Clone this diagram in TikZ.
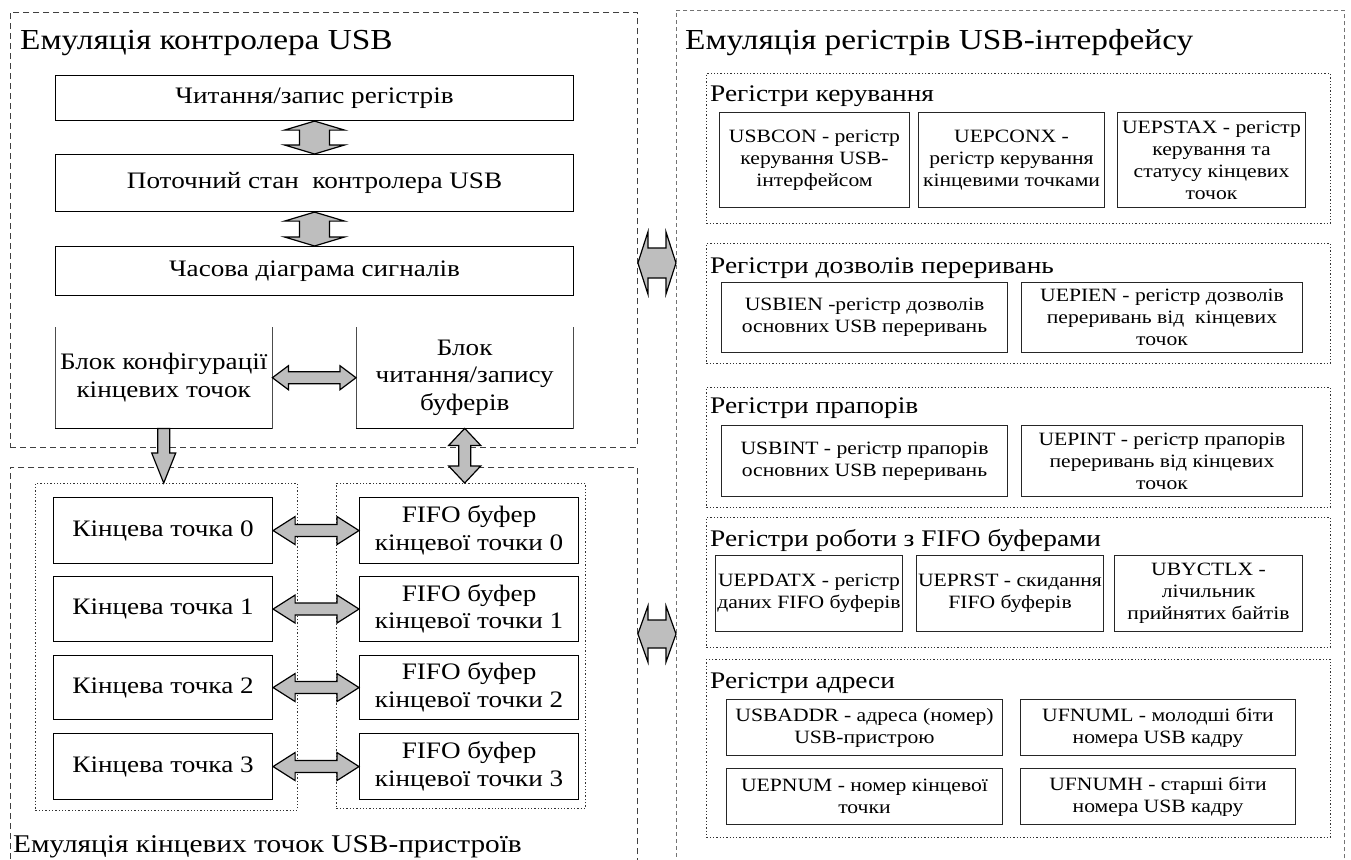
\documentclass[tikz,border=0pt]{standalone}
\usepackage{fontspec}
\setmainfont{Liberation Serif}[FakeStretch=1.15]
\usetikzlibrary{calc}

\definecolor{arrowfill}{HTML}{BEBEBE}

% font sizes (1pt = 1 unit of the drawing)
\newcommand\fsTitle{\fontsize{29}{32}\selectfont}
\newcommand\fsTitleB{\fontsize{25.5}{28}\selectfont}
\newcommand\fsGroup{\fontsize{23.8}{26}\selectfont}
\newcommand\fsBox{\fontsize{23.6}{27.5}\selectfont}
\newcommand\fsReg{\fontsize{18.8}{22}\selectfont}

\tikzset{
  outerbox/.style={draw=black!75, line width=0.9pt, dash pattern=on 6pt off 4pt,
    anchor=north west, inner sep=0pt},
  outerboxlight/.style={draw=black!55, line width=0.9pt, dash pattern=on 4pt off 3pt,
    anchor=north west, inner sep=0pt},
  groupbox/.style={draw=black!80, line width=0.9pt, dash pattern=on 1.3pt off 2pt,
    anchor=north west, inner sep=0pt},
  blockbox/.style={draw=black, line width=1.1pt, anchor=north west, inner sep=2pt,
    align=center, font=\fsBox},
  openbox/.style={anchor=north west, inner sep=2pt, align=center, font=\fsBox},
  regbox/.style={draw=black!85, line width=1pt, anchor=north west, inner sep=1pt,
    align=center, font=\fsReg},
  heading/.style={anchor=base west, inner sep=0pt, font=\fsTitle},
  grouphead/.style={anchor=base west, inner sep=0pt, font=\fsGroup},
  fatarrow/.style={fill=arrowfill, draw=black, line width=1.2pt, line join=miter},
}

% vertical double arrow: #1 top point, #2 bottom point,
% #3 head half width, #4 shaft half width, #5 head length
\newcommand\fatV[5]{%
  \draw[fatarrow] let \p1=(#1), \p2=(#2) in
    (\x1,\y1) -- ({\x1+#3pt},{\y1-#5pt}) -- ({\x1+#4pt},{\y1-#5pt})
    -- ({\x1+#4pt},{\y2+#5pt}) -- ({\x1+#3pt},{\y2+#5pt}) -- (\x1,\y2)
    -- ({\x1-#3pt},{\y2+#5pt}) -- ({\x1-#4pt},{\y2+#5pt})
    -- ({\x1-#4pt},{\y1-#5pt}) -- ({\x1-#3pt},{\y1-#5pt}) -- cycle;}

% horizontal double arrow: #1 left point, #2 right point,
% #3 head half height, #4 shaft half height, #5 head length
\newcommand\fatH[5]{%
  \draw[fatarrow] let \p1=(#1), \p2=(#2) in
    (\x1,\y1) -- ({\x1+#5pt},{\y1+#3pt}) -- ({\x1+#5pt},{\y1+#4pt})
    -- ({\x2-#5pt},{\y1+#4pt}) -- ({\x2-#5pt},{\y1+#3pt}) -- (\x2,\y1)
    -- ({\x2-#5pt},{\y1-#3pt}) -- ({\x2-#5pt},{\y1-#4pt})
    -- ({\x1+#5pt},{\y1-#4pt}) -- ({\x1+#5pt},{\y1-#3pt}) -- cycle;}

% single arrow pointing down: #1 start point, #2 tip point
\newcommand\fatDown[5]{%
  \draw[fatarrow] let \p1=(#1), \p2=(#2) in
    ({\x1-#4pt},\y1) -- ({\x1+#4pt},\y1) -- ({\x1+#4pt},{\y2+#5pt})
    -- ({\x1+#3pt},{\y2+#5pt}) -- (\x1,\y2) -- ({\x1-#3pt},{\y2+#5pt})
    -- ({\x1-#4pt},{\y2+#5pt}) -- cycle;}

\begin{document}
\begin{tikzpicture}[x=1pt, y=-1pt]
\useasboundingbox (0,0) rectangle (1351,859);
\clip (0,0) rectangle (1351,859);

% ---------------- USB controller ----------------
\node[outerbox, minimum width=627pt, minimum height=435pt] (ctl) at (10,12) {};
\node[heading] (ctlT) at (20,49) {Емуляція контролера USB};

\node[blockbox, minimum width=518pt, minimum height=45pt] (rw) at (55,75) {Читання/запис регістрів};
\node[blockbox, minimum width=518pt, minimum height=57pt] (state) at (55,154) {Поточний стан\ \ контролера USB};
\node[blockbox, minimum width=518pt, minimum height=49pt] (timing) at (55,246) {Часова діаграма сигналів};

\node[openbox, minimum width=217pt, minimum height=101pt] (cfg) at (55,327) {Блок конфігурації\\кінцевих точок};
\node[openbox, minimum width=217pt, minimum height=101pt] (bufrw) at (356,327) {Блок\\читання/запису\\буферів};
\draw[black!70, line width=1pt] (cfg.north west) -- (cfg.south west) -- (cfg.south east) -- (cfg.north east);
\draw[black!70, line width=1pt] (bufrw.north west) -- (bufrw.south west) -- (bufrw.south east) -- (bufrw.north east);
\draw[black, line width=1.6pt] (cfg.south west) -- (cfg.south east);
\draw[black, line width=1.6pt] (bufrw.south west) -- (bufrw.south east);

% ---------------- endpoints ----------------
\node[outerbox, minimum width=627pt, minimum height=420pt] (ep) at (10,467) {};
\node[groupbox, minimum width=262pt, minimum height=327pt] (epL) at (35,483) {};
\node[groupbox, minimum width=249pt, minimum height=325pt] (epR) at (336,483) {};

\node[blockbox, minimum width=219pt, minimum height=66pt] (k0) at (53,497) {Кінцева точка 0};
\node[blockbox, minimum width=219pt, minimum height=65pt] (k1) at (53,576) {Кінцева точка 1};
\node[blockbox, minimum width=219pt, minimum height=64pt] (k2) at (53,655) {Кінцева точка 2};
\node[blockbox, minimum width=219pt, minimum height=66pt] (k3) at (53,733) {Кінцева точка 3};

\node[blockbox, minimum width=219pt, minimum height=66pt] (f0) at (359,497) {FIFO буфер\\кінцевої точки 0};
\node[blockbox, minimum width=219pt, minimum height=65pt] (f1) at (359,576) {FIFO буфер\\кінцевої точки 1};
\node[blockbox, minimum width=219pt, minimum height=64pt] (f2) at (359,655) {FIFO буфер\\кінцевої точки 2};
\node[blockbox, minimum width=219pt, minimum height=66pt] (f3) at (359,733) {FIFO буфер\\кінцевої точки 3};

\node[heading, font=\fsTitleB] (epT) at (13,852) {Емуляція кінцевих точок USB-пристроїв};

% ---------------- registers ----------------
\node[outerboxlight, minimum width=668pt, minimum height=880pt] (regs) at (676,10) {};
\node[heading] (regsT) at (685,49) {Емуляція регістрів USB-інтерфейсу};

\node[groupbox, minimum width=624pt, minimum height=150pt] (g1) at (706,73) {};
\node[grouphead] (g1T) at (710,101) {Регістри керування};
\node[regbox, minimum width=190pt, minimum height=95pt] (usbcon) at (719,112) {USBCON - регістр\\керування USB-\\інтерфейсом};
\node[regbox, minimum width=186pt, minimum height=95pt] (uepconx) at (918,112) {UEPCONX -\\регістр керування\\кінцевими точками};
\node[regbox, minimum width=188pt, minimum height=95pt] (uepstax) at (1117,112) {UEPSTAX - регістр\\керування та\\статусу кінцевих\\точок};

\node[groupbox, minimum width=624pt, minimum height=120pt] (g2) at (706,243) {};
\node[grouphead] (g2T) at (710,273) {Регістри дозволів переривань};
\node[regbox, minimum width=286pt, minimum height=70pt] (usbien) at (721,282) {USBIEN -регістр дозволів\\основних USB переривань};
\node[regbox, minimum width=281pt, minimum height=70pt] (uepien) at (1021,282) {UEPIEN - регістр дозволів\\переривань від\ \ кінцевих\\точок};

\node[groupbox, minimum width=624pt, minimum height=120pt] (g3) at (706,387) {};
\node[grouphead] (g3T) at (710,413) {Регістри прапорів};
\node[regbox, minimum width=286pt, minimum height=71pt] (usbint) at (721,425) {USBINT - регістр прапорів\\основних USB переривань};
\node[regbox, minimum width=281pt, minimum height=71pt] (uepint) at (1021,425) {UEPINT - регістр прапорів\\переривань від кінцевих\\точок};

\node[groupbox, minimum width=624pt, minimum height=130pt] (g4) at (706,517) {};
\node[grouphead] (g4T) at (710,546) {Регістри роботи з FIFO буферами};
\node[regbox, minimum width=187pt, minimum height=76pt] (uepdatx) at (715,555) {UEPDATX - регістр\\даних FIFO буферів};
\node[regbox, minimum width=187pt, minimum height=76pt] (ueprst) at (916,555) {UEPRST - скидання\\FIFO буферів};
\node[regbox, minimum width=188pt, minimum height=76pt] (ubyctlx) at (1114,555) {UBYCTLX -\\лічильник\\прийнятих байтів};

\node[groupbox, minimum width=624pt, minimum height=178pt] (g5) at (706,659) {};
\node[grouphead] (g5T) at (710,688) {Регістри адреси};
\node[regbox, minimum width=276pt, minimum height=56pt] (usbaddr) at (726,699) {USBADDR - адреса (номер)\\USB-пристрою};
\node[regbox, minimum width=275pt, minimum height=56pt] (ufnuml) at (1020,699) {UFNUML - молодші біти\\номера USB кадру};
\node[regbox, minimum width=276pt, minimum height=56pt] (uepnum) at (726,768) {UEPNUM - номер кінцевої\\точки};
\node[regbox, minimum width=275pt, minimum height=56pt] (ufnumh) at (1020,768) {UFNUMH - старші біти\\номера USB кадру};

% ---------------- connectors ----------------
\fatV{rw.south}{state.north}{30}{15}{9}
\fatV{state.south}{timing.north}{30}{15}{9}
\fatH{cfg.east}{bufrw.west}{12}{6}{16}
\fatDown{cfg.south}{cfg.south |- epL.north}{12}{6}{30}
\fatV{bufrw.south}{bufrw.south |- epR.north}{16}{6}{17}
\fatH{k0.east}{f0.west}{14}{6}{22}
\fatH{k1.east}{f1.west}{14}{6}{22}
\fatH{k2.east}{f2.west}{14}{6}{22}
\fatH{k3.east}{f3.west}{14}{6}{22}

\coordinate (link1) at (0,263);
\coordinate (link2) at (0,634);
\fatH{ctl.east |- link1}{regs.west |- link1}{31}{15}{10}
\fatH{ep.east |- link2}{regs.west |- link2}{28}{14}{10}
\end{tikzpicture}
\end{document}
